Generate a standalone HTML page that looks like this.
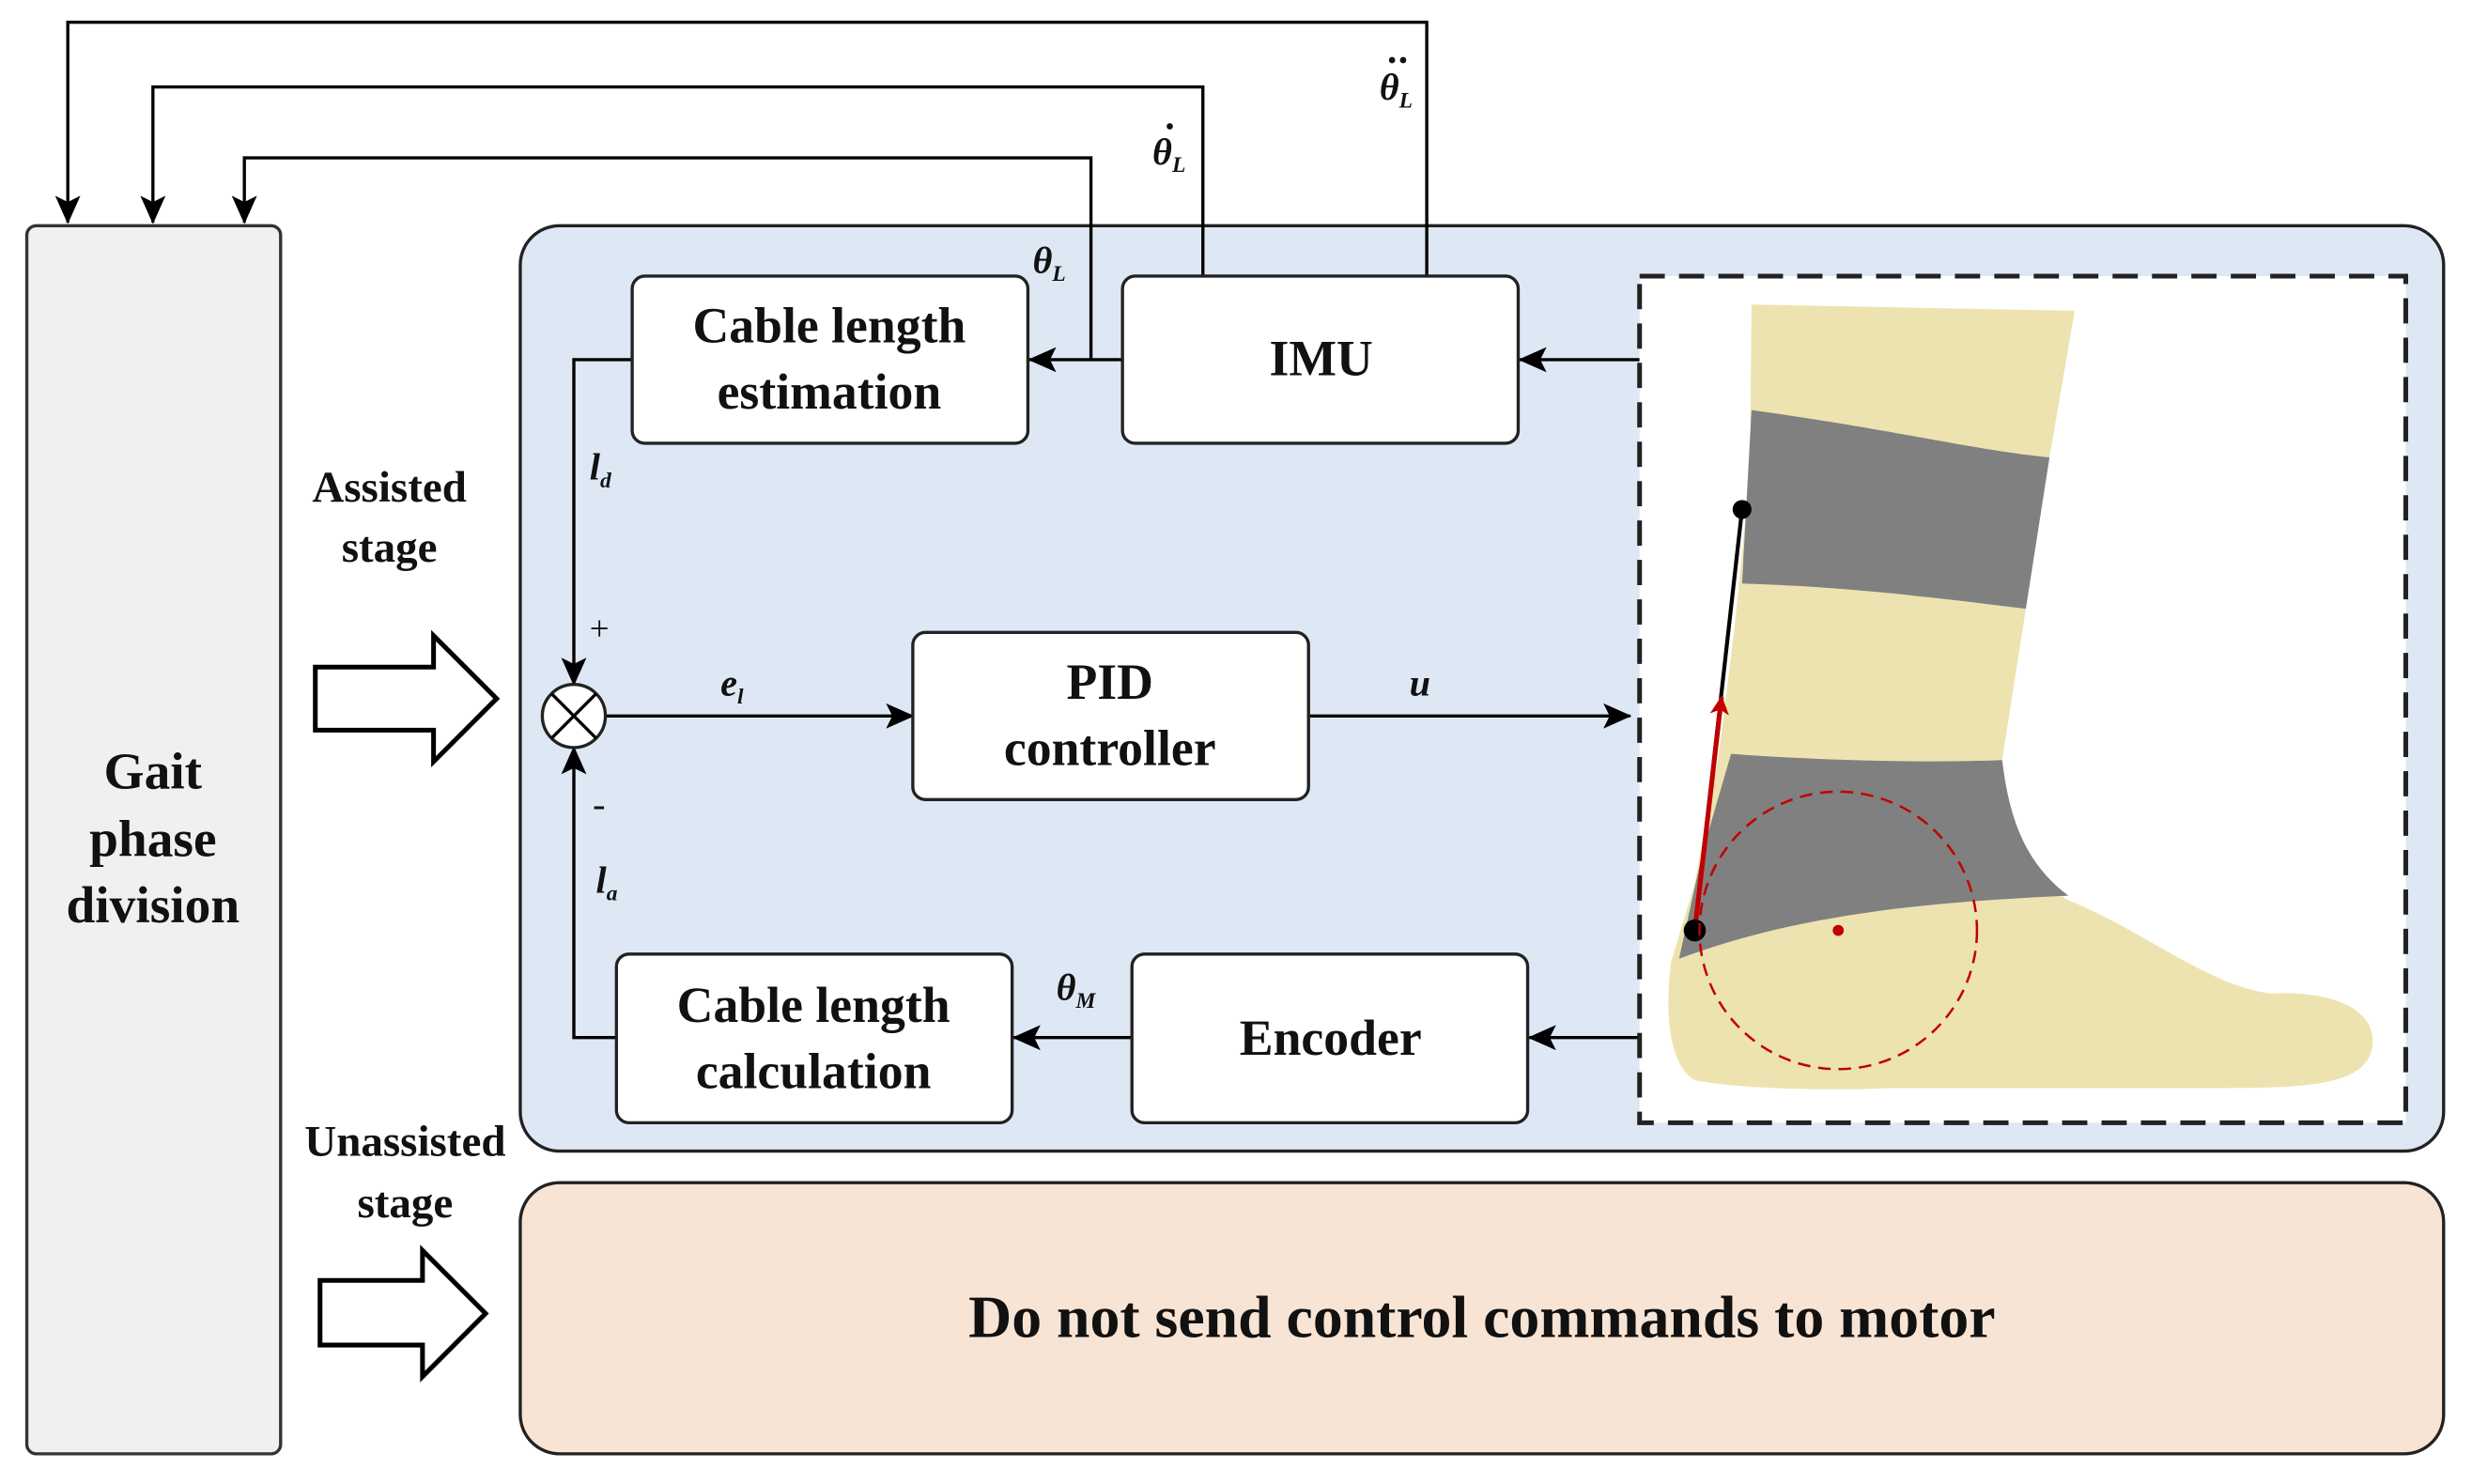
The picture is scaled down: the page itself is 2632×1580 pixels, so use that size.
<!DOCTYPE html>
<html><head><meta charset="utf-8"><style>html,body{margin:0;padding:0;background:#fff}svg{display:block}text{font-family:"Liberation Serif","Times New Roman",serif}</style></head>
<body>
<svg width="2632" height="1580" viewBox="0 0 1568 941" xmlns="http://www.w3.org/2000/svg">
<defs>
<marker id="ah" markerWidth="18" markerHeight="16" refX="17" refY="8" orient="auto" markerUnits="userSpaceOnUse"><path d="M0,0 L18,8 L0,16 L4,8 z" fill="#000"/></marker>
<marker id="ahr" markerWidth="12" markerHeight="12" refX="11" refY="6" orient="auto" markerUnits="userSpaceOnUse"><path d="M0,0 L12,6 L0,12 L3,6 z" fill="#c00000"/></marker>
</defs>
<rect x="17" y="143" width="161" height="779" rx="6" fill="#f0f0f0" stroke="#333" stroke-width="2"/>
<rect x="330" y="143" width="1220" height="587" rx="25" fill="#dde8f4" stroke="#222" stroke-width="2"/>
<rect x="330" y="750" width="1220" height="172" rx="25" fill="#f8e4d4" stroke="#222" stroke-width="2"/>
<g fill="none" stroke="#000" stroke-width="2">
<polyline points="905,175 905,14 43,14 43,141" marker-end="url(#ah)"/>
<polyline points="763,175 763,55 97,55 97,141" marker-end="url(#ah)"/>
<polyline points="692,228 692,100 155,100 155,141" marker-end="url(#ah)"/>
<line x1="712" y1="228" x2="653" y2="228" marker-end="url(#ah)"/>
<polyline points="401,228 364,228 364,434" marker-end="url(#ah)"/>
<polyline points="391,658 364,658 364,474" marker-end="url(#ah)"/>
<line x1="384" y1="454" x2="579" y2="454" marker-end="url(#ah)"/>
<line x1="830" y1="454" x2="1034" y2="454" marker-end="url(#ah)"/>
<line x1="1040" y1="228" x2="964" y2="228" marker-end="url(#ah)"/>
<line x1="1040" y1="658" x2="970" y2="658" marker-end="url(#ah)"/>
<line x1="718" y1="658" x2="643" y2="658" marker-end="url(#ah)"/>
</g>
<g fill="#fff" stroke="#222" stroke-width="2">
<rect x="401" y="175" width="251" height="106" rx="8"/>
<rect x="712" y="175" width="251" height="106" rx="8"/>
<rect x="579" y="401" width="251" height="106" rx="8"/>
<rect x="391" y="605" width="251" height="107" rx="8"/>
<rect x="718" y="605" width="251" height="107" rx="8"/>
<circle cx="364" cy="454" r="20"/>
</g>
<path d="M350,440 L378,468 M378,440 L350,468" stroke="#000" stroke-width="2"/>
<rect x="1040" y="175" width="486" height="537" fill="#fff" stroke="#222" stroke-width="3" stroke-dasharray="16,9"/>
<path d="M1111,193 L1316,197 L1300,290 L1285,386 L1270,482 C1275,525 1288,550 1310,570 C1360,590 1400,625 1440,630 C1480,628 1505,640 1505,660 C1505,690 1460,690 1400,690 L1200,690 C1150,692 1100,690 1075,685 C1058,675 1056,640 1060,610 L1075,560 L1090,480 L1100,400 L1110,300 Z" fill="#ede3b0"/>
<path d="M1111,260 C1200,272 1250,285 1300,290 L1285,386 C1220,378 1170,372 1105,370 Z" fill="#808080"/>
<path d="M1098,478 C1150,482 1220,484 1270,482 C1275,525 1288,550 1312,568 C1220,572 1140,580 1065,608 L1080,540 Z" fill="#808080"/>
<line x1="1105" y1="323" x2="1075" y2="590" stroke="#000" stroke-width="2.5"/>
<circle cx="1105" cy="323" r="6" fill="#000"/>
<line x1="1075" y1="590" x2="1092" y2="442" stroke="#c00000" stroke-width="3" marker-end="url(#ahr)"/>
<circle cx="1075" cy="590" r="7" fill="#000"/>
<circle cx="1166" cy="590" r="88" fill="none" stroke="#c00000" stroke-width="1.5" stroke-dasharray="8,5"/>
<circle cx="1166" cy="590" r="3.5" fill="#c00000"/>
<g fill="#fff" stroke="#000" stroke-width="3">
<path d="M200,423 L275,423 L275,403 L315,443 L275,483 L275,463 L200,463 Z"/>
<path d="M203,812 L268,812 L268,793 L308,833 L268,873 L268,853 L203,853 Z"/>
</g>
<g font-weight="bold" text-anchor="middle" fill="#111">
<text x="526" y="217" font-size="32">Cable length</text>
<text x="526" y="259" font-size="32">estimation</text>
<text x="838" y="238" font-size="32">IMU</text>
<text x="704" y="443" font-size="32">PID</text>
<text x="704" y="485" font-size="32">controller</text>
<text x="516" y="648" font-size="32">Cable length</text>
<text x="516" y="690" font-size="32">calculation</text>
<text x="844" y="669" font-size="32">Encoder</text>
<text x="97" y="500" font-size="33">Gait</text>
<text x="97" y="543" font-size="33">phase</text>
<text x="97" y="585" font-size="33">division</text>
<text x="247" y="318" font-size="28">Assisted</text>
<text x="247" y="356" font-size="28">stage</text>
<text x="257" y="733" font-size="28">Unassisted</text>
<text x="257" y="772" font-size="28">stage</text>
<text x="940" y="848" font-size="38">Do not send control commands to motor</text>
</g>
<g font-style="italic" font-weight="bold" fill="#111" font-size="24">
<text x="655" y="173">θ<tspan font-size="14" dy="5">L</tspan></text>
<text x="731" y="104">θ<tspan font-size="14" dy="5">L</tspan></text>
<text x="875" y="63">θ<tspan font-size="14" dy="5">L</tspan></text>
<text x="374" y="304">l<tspan font-size="14" dy="5">d</tspan></text>
<text x="378" y="566">l<tspan font-size="14" dy="5">a</tspan></text>
<text x="457" y="441">e<tspan font-size="14" dy="5">l</tspan></text>
<text x="894" y="441">u</text>
<text x="670" y="634">θ<tspan font-size="14" dy="5">M</tspan></text>
</g>
<circle cx="742" cy="80" r="2" fill="#111"/>
<circle cx="883" cy="38" r="2" fill="#111"/>
<circle cx="890" cy="38" r="2" fill="#111"/>
<text x="374" y="406" font-size="22" fill="#111">+</text>
<text x="376" y="518" font-size="24" fill="#111">-</text>
</svg>
</body></html>
